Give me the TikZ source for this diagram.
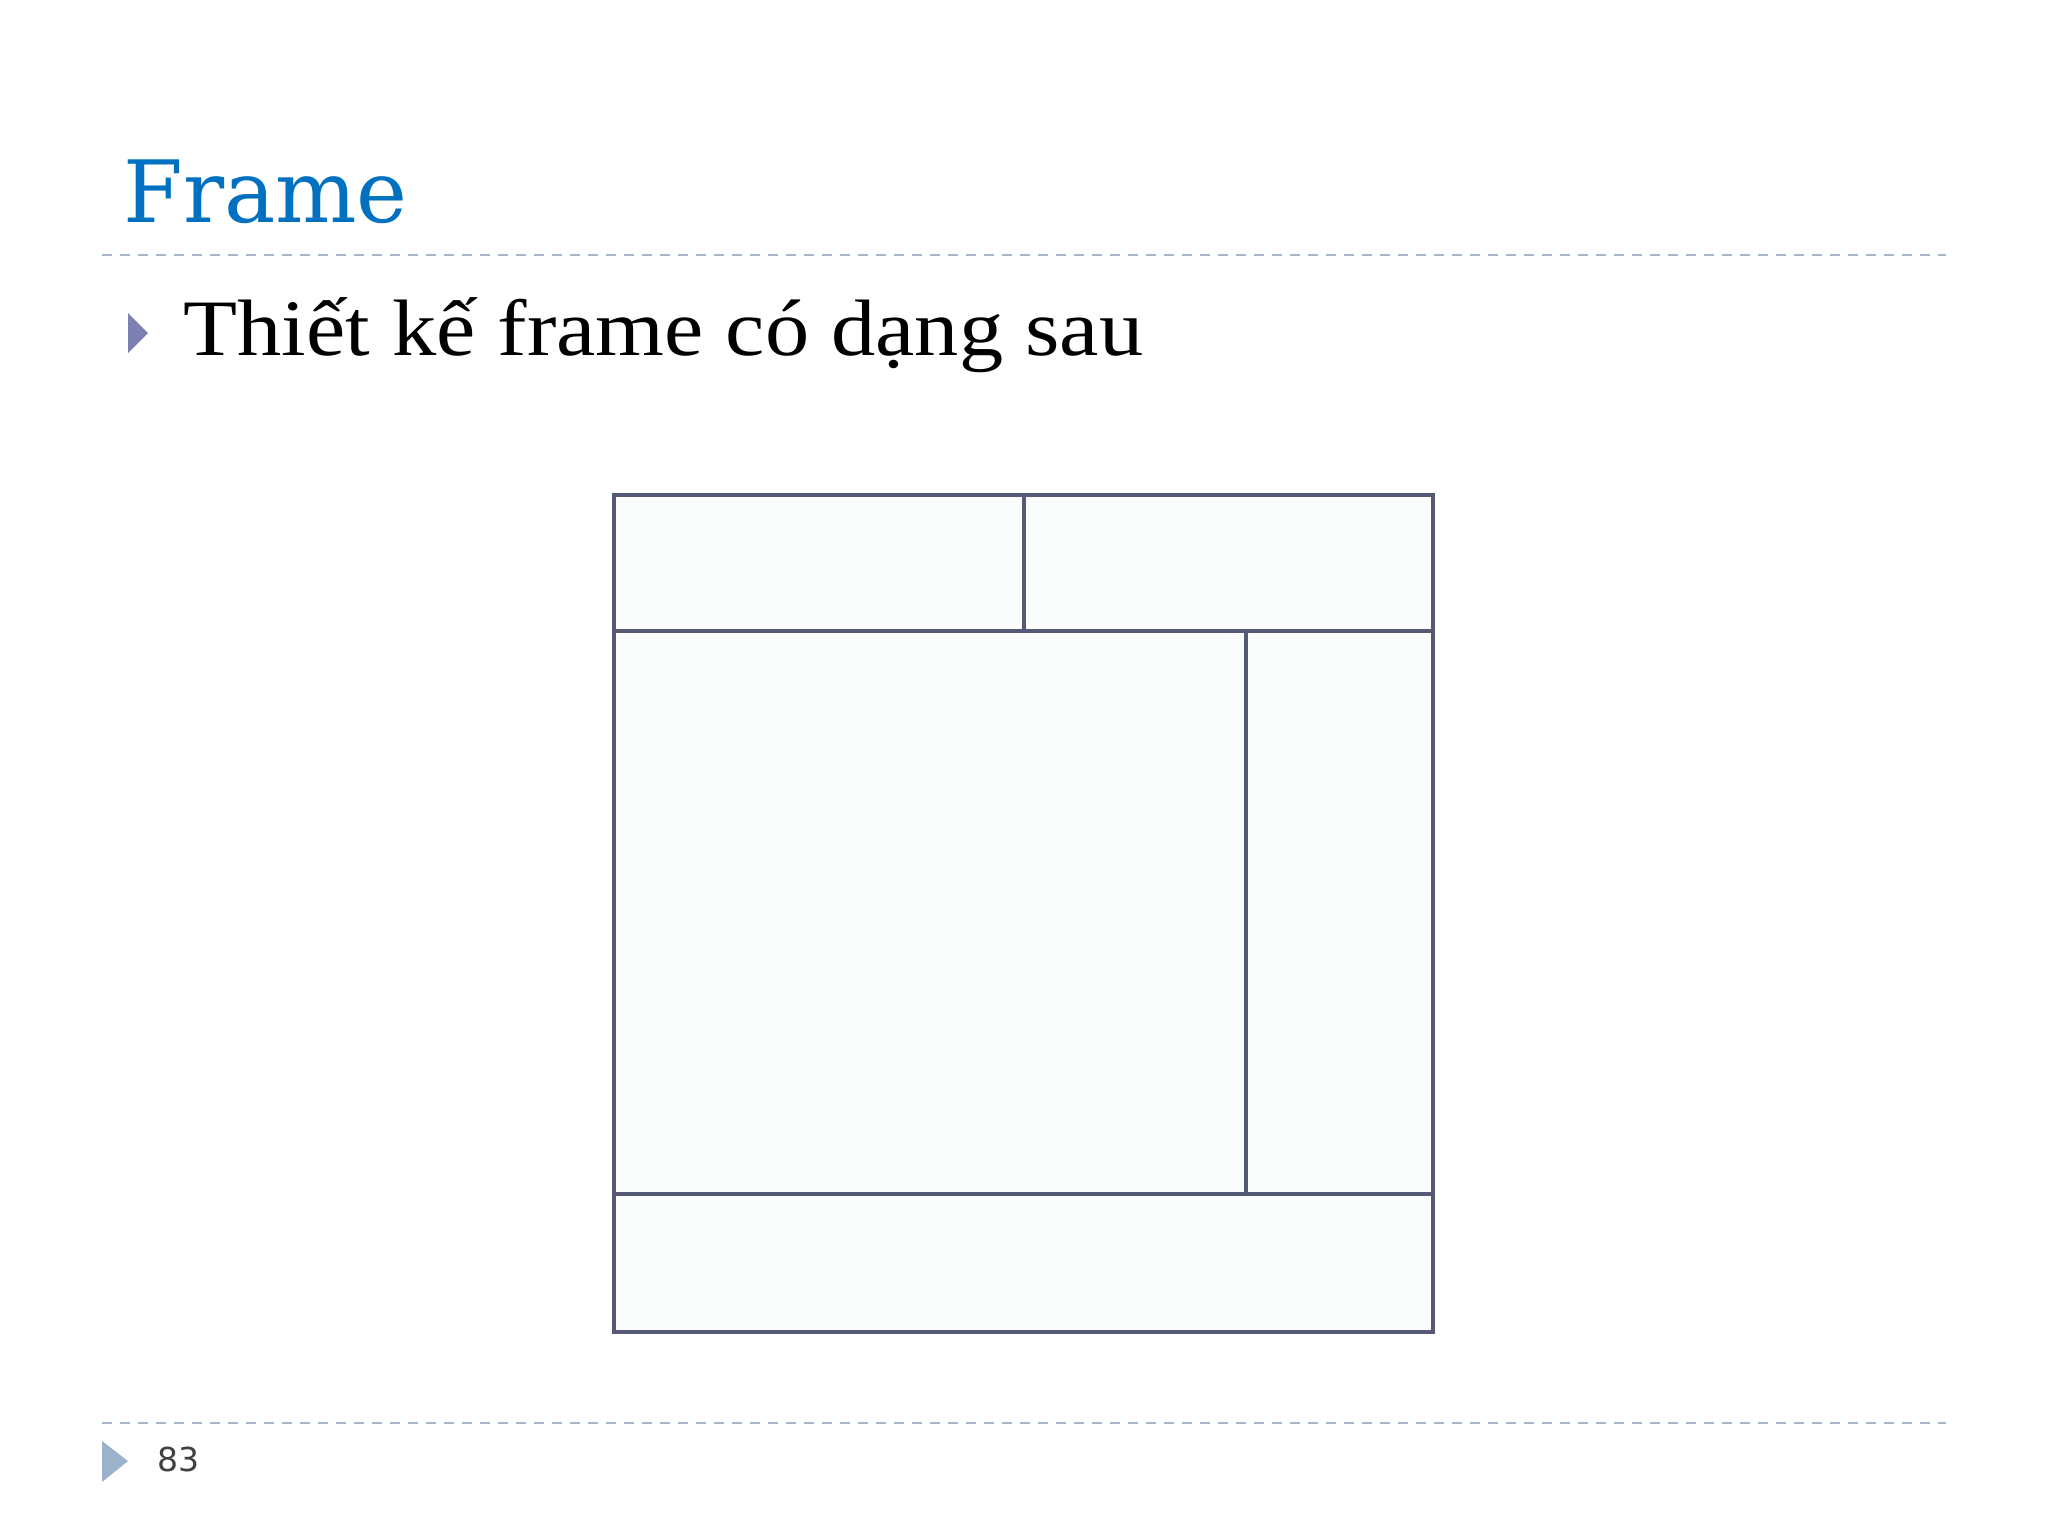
\documentclass[tikz,border=0pt]{standalone}
\usepackage{fontspec}
\newfontfamily\titlefont{DejaVu Serif}
\newfontfamily\bodyfont[FakeStretch=1.105]{Liberation Serif}
\newfontfamily\numfont{DejaVu Sans}
\definecolor{titleblue}{HTML}{0070C0}
\definecolor{rulegray}{HTML}{A9B8C8}
\definecolor{bulletpurple}{HTML}{7B80B0}
\definecolor{footblue}{HTML}{9AB2CB}
\definecolor{framecol}{HTML}{545A75}
\definecolor{numgray}{HTML}{404040}
\definecolor{framefill}{HTML}{FBFDFD}
\tikzset{
  rulestyle/.style={draw=rulegray, line width=1pt, dash pattern=on 5pt off 4pt},
  framestyle/.style={draw=framecol, line width=1.6pt},
}
\begin{document}
\begin{tikzpicture}[x=0.5pt,y=-0.5pt]
\useasboundingbox[fill=white] (0,0) rectangle (2048,1536);
% title
\node[anchor=base west, inner sep=0, text=titleblue, font=\titlefont\fontsize{43}{48}\selectfont] (title) at (123,222) {Frame};
\draw[rulestyle] (102,255) -- (1946,255);
% bullet
\fill[bulletpurple] (128,313) -- (148,333) -- (128,353) -- cycle;
\node[anchor=base west, inner sep=0, font=\bodyfont\fontsize{40}{46}\selectfont] (body) at (183,355) {Thiết kế frame có dạng sau};
% frame
\fill[framefill] (614,495) rectangle (1433,1332);
\draw[framestyle] (614,495) rectangle (1433,1332);
\draw[framestyle] (614,631) -- (1433,631);
\draw[framestyle] (1024,495) -- (1024,631);
\draw[framestyle] (1246,631) -- (1246,1194);
\draw[framestyle] (614,1194) -- (1433,1194);
% footer
\draw[rulestyle] (102,1423) -- (1946,1423);
\fill[footblue] (102,1441) -- (128,1461) -- (102,1482) -- cycle;
\node[anchor=base west, inner sep=0, text=numgray, font=\numfont\fontsize{16.5}{20}\selectfont] (pagenum) at (157,1471) {83};
\end{tikzpicture}
\end{document}
